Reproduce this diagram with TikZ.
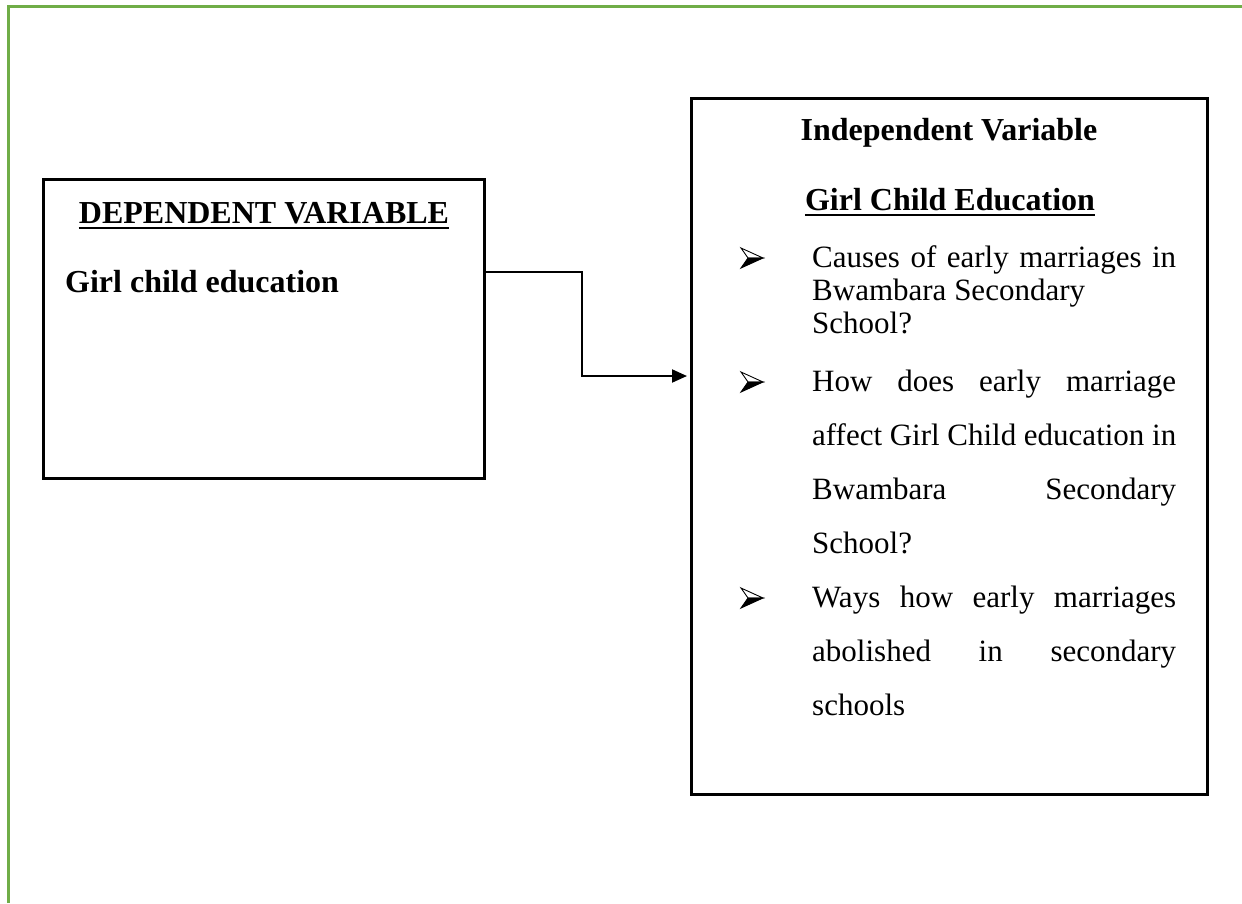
\documentclass[tikz,border=0pt]{standalone}
\usepackage{fontspec}
\setmainfont{Liberation Serif}
\usetikzlibrary{arrows.meta}
\definecolor{pageborder}{HTML}{70AD47}
\newcommand\bodyf{\fontsize{31pt}{36pt}\selectfont}
\newcommand\headf{\fontsize{32pt}{37pt}\selectfont\bfseries}
\tikzset{
  frame/.style={draw=pageborder, line width=3pt},
  varbox/.style={draw=black, line width=2.5pt, fill=none, inner sep=0pt, anchor=north west},
  txt/.style={inner sep=0pt, font=\bodyf, anchor=base west},
  head/.style={inner sep=0pt, font=\headf, anchor=base},
  conn/.style={draw=black, line width=2pt, -{Triangle[length=15pt,width=13pt]}},
  uline/.style={draw=black, line width=2pt},
  arrowbullet/.pic={
    \filldraw[fill=white, draw=black, line width=0.9pt, line join=miter] (0,-10) -- (22,0) -- (7,0) -- cycle;
    \filldraw[fill=black, draw=black, line width=0.9pt, line join=miter] (0,10) -- (22,0) -- (7,0) -- cycle;
  }
}
\begin{document}
\begin{tikzpicture}[x=1pt,y=-1pt]
\useasboundingbox (0,0) rectangle (1242,903);
% page border
\coordinate (fb) at (8,903);
\coordinate (fc) at (8,6.5);
\coordinate (fr) at (1242,6.5);
\draw[frame] (fb) -- (fc) -- (fr);

% boxes
\node[varbox, minimum width=441pt, minimum height=299pt] (dep) at (42,178) {};
\node[varbox, minimum width=516pt, minimum height=696pt] (indep) at (690,97) {};

% left box text
\node[head] (dh) at (264,223) {DEPENDENT VARIABLE};
\draw[uline] ([yshift=-5pt]dh.base west) -- ([yshift=-5pt]dh.base east);
\node[txt, font=\headf] (dt) at (65,292) {Girl child education};

% right box text
\node[head] (ih1) at (949,140) {Independent Variable};
\node[head] (ih2) at (950,210) {Girl Child Education};
\draw[uline] ([yshift=-5pt]ih2.base west) -- ([yshift=-5pt]ih2.base east);

\pic (m1) at (741,258) {arrowbullet};
\node[txt] (i1a) at (812,267) {\makebox[364pt][s]{Causes of early marriages in}};
\node[txt] (i1b) at (812,300) {Bwambara Secondary};
\node[txt] (i1c) at (812,333) {School?};

\pic (m2) at (741,382) {arrowbullet};
\node[txt] (i2a) at (812,391) {\makebox[364pt][s]{How does early marriage}};
\node[txt] (i2b) at (812,445) {\makebox[364pt][s]{affect Girl Child education in}};
\node[txt] (i2c) at (812,499) {\makebox[364pt][s]{Bwambara Secondary}};
\node[txt] (i2d) at (812,553) {School?};

\pic (m3) at (741,598) {arrowbullet};
\node[txt] (i3a) at (812,607) {\makebox[364pt][s]{Ways how early marriages}};
\node[txt] (i3b) at (812,661) {\makebox[364pt][s]{abolished in secondary}};
\node[txt] (i3c) at (812,715) {schools};

% connector
\coordinate (bend) at (582,272);
\coordinate (lowy) at (0,376);
\draw[conn, shorten >=3pt] (dep.east |- bend) -- (bend) |- (indep.west |- lowy);
\end{tikzpicture}
\end{document}
